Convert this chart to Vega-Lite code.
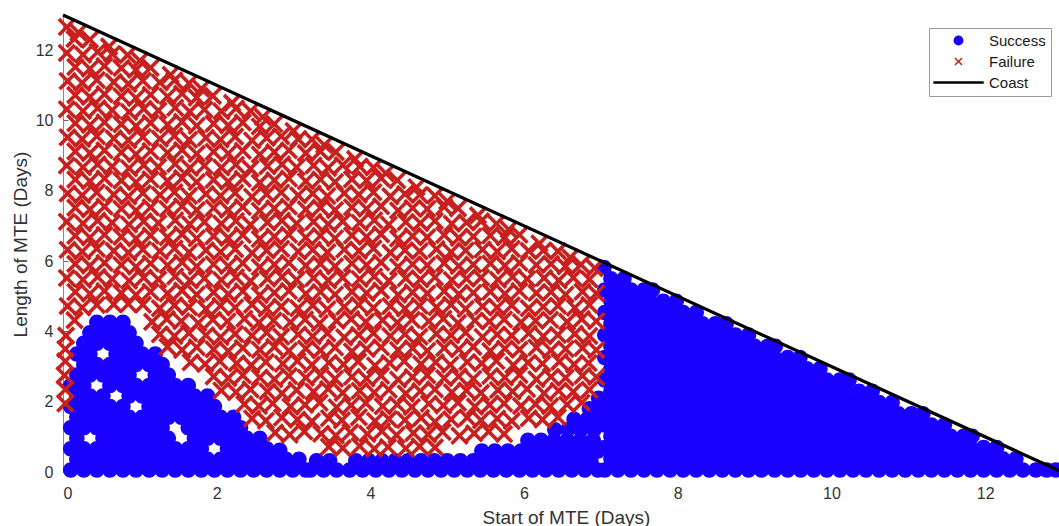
{"$schema":"https://vega.github.io/schema/vega-lite/v6.json","width":999,"height":457,"autosize":"none","padding":{"left":63,"top":15,"right":0,"bottom":54},"background":"white",
"config":{"view":{"stroke":null},"font":"Liberation Sans","axis":{"grid":false,"domainColor":"#888888","tickColor":"#666666","tickSize":-5,"labelColor":"#333333","titleColor":"#333333","labelFontSize":16,"titleFontSize":19,"titleFontWeight":"normal","labelFont":"Liberation Sans","titleFont":"Liberation Sans"},
"legend":{"orient":"none","legendX":866,"legendY":13,"fillColor":"white","strokeColor":"#9a9a9a","padding":5,"cornerRadius":0,"labelFont":"Liberation Sans","labelFontSize":15,"labelColor":"#1a1a1a","labelOffset":23,"symbolOffset":17,"rowPadding":5,"symbolSize":196,"symbolStrokeWidth":0}},
"datasets":{
"s":[
{"x":7.05,"y":0.06},{"x":7.22,"y":0.06},{"x":7.39,"y":0.06},{"x":7.56,"y":0.06},{"x":7.73,"y":0.06},{"x":7.9,"y":0.06},{"x":8.07,"y":0.06},{"x":8.24,"y":0.06},{"x":8.41,"y":0.06},{"x":8.58,"y":0.06},{"x":8.75,"y":0.06},{"x":8.92,"y":0.06},{"x":9.09,"y":0.06},{"x":9.26,"y":0.06},{"x":9.43,"y":0.06},{"x":9.6,"y":0.06},{"x":9.77,"y":0.06},{"x":9.94,"y":0.06},{"x":10.11,"y":0.06},{"x":10.28,"y":0.06},{"x":10.45,"y":0.06},{"x":10.62,"y":0.06},{"x":10.79,"y":0.06},{"x":10.96,"y":0.06},{"x":11.13,"y":0.06},{"x":11.3,"y":0.06},{"x":11.47,"y":0.06},{"x":11.64,"y":0.06},{"x":11.81,"y":0.06},{"x":11.98,"y":0.06},{"x":12.15,"y":0.06},{"x":12.32,"y":0.06},{"x":12.49,"y":0.06},{"x":12.66,"y":0.06},{"x":12.8,"y":0.06},{"x":12.92,"y":0.06},
{"x":7.13,"y":0.38},{"x":7.3,"y":0.38},{"x":7.47,"y":0.38},{"x":7.64,"y":0.38},{"x":7.81,"y":0.38},{"x":7.98,"y":0.38},{"x":8.15,"y":0.38},{"x":8.32,"y":0.38},{"x":8.49,"y":0.38},{"x":8.66,"y":0.38},{"x":8.83,"y":0.38},{"x":9,"y":0.38},{"x":9.17,"y":0.38},{"x":9.34,"y":0.38},{"x":9.51,"y":0.38},{"x":9.68,"y":0.38},{"x":9.85,"y":0.38},{"x":10.02,"y":0.38},{"x":10.19,"y":0.38},{"x":10.36,"y":0.38},{"x":10.53,"y":0.38},{"x":10.7,"y":0.38},{"x":10.87,"y":0.38},{"x":11.04,"y":0.38},{"x":11.21,"y":0.38},{"x":11.38,"y":0.38},{"x":11.55,"y":0.38},{"x":11.72,"y":0.38},{"x":11.89,"y":0.38},{"x":12.06,"y":0.38},{"x":12.23,"y":0.38},{"x":12.4,"y":0.38},
{"x":7.05,"y":0.7},{"x":7.22,"y":0.7},{"x":7.39,"y":0.7},{"x":7.56,"y":0.7},{"x":7.73,"y":0.7},{"x":7.9,"y":0.7},{"x":8.07,"y":0.7},{"x":8.24,"y":0.7},{"x":8.41,"y":0.7},{"x":8.58,"y":0.7},{"x":8.75,"y":0.7},{"x":8.92,"y":0.7},{"x":9.09,"y":0.7},{"x":9.26,"y":0.7},{"x":9.43,"y":0.7},{"x":9.6,"y":0.7},{"x":9.77,"y":0.7},{"x":9.94,"y":0.7},{"x":10.11,"y":0.7},{"x":10.28,"y":0.7},{"x":10.45,"y":0.7},{"x":10.62,"y":0.7},{"x":10.79,"y":0.7},{"x":10.96,"y":0.7},{"x":11.13,"y":0.7},{"x":11.3,"y":0.7},{"x":11.47,"y":0.7},{"x":11.64,"y":0.7},{"x":11.81,"y":0.7},{"x":11.98,"y":0.7},{"x":12.15,"y":0.7},
{"x":7.13,"y":1.02},{"x":7.3,"y":1.02},{"x":7.47,"y":1.02},{"x":7.64,"y":1.02},{"x":7.81,"y":1.02},{"x":7.98,"y":1.02},{"x":8.15,"y":1.02},{"x":8.32,"y":1.02},{"x":8.49,"y":1.02},{"x":8.66,"y":1.02},{"x":8.83,"y":1.02},{"x":9,"y":1.02},{"x":9.17,"y":1.02},{"x":9.34,"y":1.02},{"x":9.51,"y":1.02},{"x":9.68,"y":1.02},{"x":9.85,"y":1.02},{"x":10.02,"y":1.02},{"x":10.19,"y":1.02},{"x":10.36,"y":1.02},{"x":10.53,"y":1.02},{"x":10.7,"y":1.02},{"x":10.87,"y":1.02},{"x":11.04,"y":1.02},{"x":11.21,"y":1.02},{"x":11.38,"y":1.02},{"x":11.55,"y":1.02},{"x":11.72,"y":1.02},{"x":11.83,"y":1.02},
{"x":7.05,"y":1.34},{"x":7.22,"y":1.34},{"x":7.39,"y":1.34},{"x":7.56,"y":1.34},{"x":7.73,"y":1.34},{"x":7.9,"y":1.34},{"x":8.07,"y":1.34},{"x":8.24,"y":1.34},{"x":8.41,"y":1.34},{"x":8.58,"y":1.34},{"x":8.75,"y":1.34},{"x":8.92,"y":1.34},{"x":9.09,"y":1.34},{"x":9.26,"y":1.34},{"x":9.43,"y":1.34},{"x":9.6,"y":1.34},{"x":9.77,"y":1.34},{"x":9.94,"y":1.34},{"x":10.11,"y":1.34},{"x":10.28,"y":1.34},{"x":10.45,"y":1.34},{"x":10.62,"y":1.34},{"x":10.79,"y":1.34},{"x":10.96,"y":1.34},{"x":11.13,"y":1.34},{"x":11.3,"y":1.34},{"x":11.47,"y":1.34},
{"x":7.13,"y":1.66},{"x":7.3,"y":1.66},{"x":7.47,"y":1.66},{"x":7.64,"y":1.66},{"x":7.81,"y":1.66},{"x":7.98,"y":1.66},{"x":8.15,"y":1.66},{"x":8.32,"y":1.66},{"x":8.49,"y":1.66},{"x":8.66,"y":1.66},{"x":8.83,"y":1.66},{"x":9,"y":1.66},{"x":9.17,"y":1.66},{"x":9.34,"y":1.66},{"x":9.51,"y":1.66},{"x":9.68,"y":1.66},{"x":9.85,"y":1.66},{"x":10.02,"y":1.66},{"x":10.19,"y":1.66},{"x":10.36,"y":1.66},{"x":10.53,"y":1.66},{"x":10.7,"y":1.66},{"x":10.87,"y":1.66},{"x":11.04,"y":1.66},{"x":11.19,"y":1.66},
{"x":7.05,"y":1.98},{"x":7.22,"y":1.98},{"x":7.39,"y":1.98},{"x":7.56,"y":1.98},{"x":7.73,"y":1.98},{"x":7.9,"y":1.98},{"x":8.07,"y":1.98},{"x":8.24,"y":1.98},{"x":8.41,"y":1.98},{"x":8.58,"y":1.98},{"x":8.75,"y":1.98},{"x":8.92,"y":1.98},{"x":9.09,"y":1.98},{"x":9.26,"y":1.98},{"x":9.43,"y":1.98},{"x":9.6,"y":1.98},{"x":9.77,"y":1.98},{"x":9.94,"y":1.98},{"x":10.11,"y":1.98},{"x":10.28,"y":1.98},{"x":10.45,"y":1.98},{"x":10.62,"y":1.98},{"x":10.79,"y":1.98},
{"x":7.13,"y":2.3},{"x":7.3,"y":2.3},{"x":7.47,"y":2.3},{"x":7.64,"y":2.3},{"x":7.81,"y":2.3},{"x":7.98,"y":2.3},{"x":8.15,"y":2.3},{"x":8.32,"y":2.3},{"x":8.49,"y":2.3},{"x":8.66,"y":2.3},{"x":8.83,"y":2.3},{"x":9,"y":2.3},{"x":9.17,"y":2.3},{"x":9.34,"y":2.3},{"x":9.51,"y":2.3},{"x":9.68,"y":2.3},{"x":9.85,"y":2.3},{"x":10.02,"y":2.3},{"x":10.19,"y":2.3},{"x":10.36,"y":2.3},{"x":10.53,"y":2.3},
{"x":7.05,"y":2.62},{"x":7.22,"y":2.62},{"x":7.39,"y":2.62},{"x":7.56,"y":2.62},{"x":7.73,"y":2.62},{"x":7.9,"y":2.62},{"x":8.07,"y":2.62},{"x":8.24,"y":2.62},{"x":8.41,"y":2.62},{"x":8.58,"y":2.62},{"x":8.75,"y":2.62},{"x":8.92,"y":2.62},{"x":9.09,"y":2.62},{"x":9.26,"y":2.62},{"x":9.43,"y":2.62},{"x":9.6,"y":2.62},{"x":9.77,"y":2.62},{"x":9.94,"y":2.62},{"x":10.11,"y":2.62},{"x":10.23,"y":2.62},
{"x":7.13,"y":2.94},{"x":7.3,"y":2.94},{"x":7.47,"y":2.94},{"x":7.64,"y":2.94},{"x":7.81,"y":2.94},{"x":7.98,"y":2.94},{"x":8.15,"y":2.94},{"x":8.32,"y":2.94},{"x":8.49,"y":2.94},{"x":8.66,"y":2.94},{"x":8.83,"y":2.94},{"x":9,"y":2.94},{"x":9.17,"y":2.94},{"x":9.34,"y":2.94},{"x":9.51,"y":2.94},{"x":9.68,"y":2.94},{"x":9.85,"y":2.94},
{"x":7.05,"y":3.26},{"x":7.22,"y":3.26},{"x":7.39,"y":3.26},{"x":7.56,"y":3.26},{"x":7.73,"y":3.26},{"x":7.9,"y":3.26},{"x":8.07,"y":3.26},{"x":8.24,"y":3.26},{"x":8.41,"y":3.26},{"x":8.58,"y":3.26},{"x":8.75,"y":3.26},{"x":8.92,"y":3.26},{"x":9.09,"y":3.26},{"x":9.26,"y":3.26},{"x":9.43,"y":3.26},{"x":9.59,"y":3.26},
{"x":7.13,"y":3.58},{"x":7.3,"y":3.58},{"x":7.47,"y":3.58},{"x":7.64,"y":3.58},{"x":7.81,"y":3.58},{"x":7.98,"y":3.58},{"x":8.15,"y":3.58},{"x":8.32,"y":3.58},{"x":8.49,"y":3.58},{"x":8.66,"y":3.58},{"x":8.83,"y":3.58},{"x":9,"y":3.58},{"x":9.17,"y":3.58},{"x":9.27,"y":3.58},
{"x":7.05,"y":3.9},{"x":7.22,"y":3.9},{"x":7.39,"y":3.9},{"x":7.56,"y":3.9},{"x":7.73,"y":3.9},{"x":7.9,"y":3.9},{"x":8.07,"y":3.9},{"x":8.24,"y":3.9},{"x":8.41,"y":3.9},{"x":8.58,"y":3.9},{"x":8.75,"y":3.9},{"x":8.92,"y":3.9},
{"x":7.13,"y":4.22},{"x":7.3,"y":4.22},{"x":7.47,"y":4.22},{"x":7.64,"y":4.22},{"x":7.81,"y":4.22},{"x":7.98,"y":4.22},{"x":8.15,"y":4.22},{"x":8.32,"y":4.22},{"x":8.49,"y":4.22},{"x":8.63,"y":4.22},
{"x":7.05,"y":4.54},{"x":7.22,"y":4.54},{"x":7.39,"y":4.54},{"x":7.56,"y":4.54},{"x":7.73,"y":4.54},{"x":7.9,"y":4.54},{"x":8.07,"y":4.54},{"x":8.24,"y":4.54},
{"x":7.13,"y":4.86},{"x":7.3,"y":4.86},{"x":7.47,"y":4.86},{"x":7.64,"y":4.86},{"x":7.81,"y":4.86},{"x":7.98,"y":4.86},
{"x":7.05,"y":5.18},{"x":7.22,"y":5.18},{"x":7.39,"y":5.18},{"x":7.56,"y":5.18},{"x":7.67,"y":5.18},
{"x":7.13,"y":5.5},{"x":7.3,"y":5.5},{"x":7.04,"y":5.82},
{"x":3.22,"y":0.06},{"x":3.39,"y":0.06},{"x":3.56,"y":0.06},{"x":3.73,"y":0.06},{"x":3.9,"y":0.06},{"x":4.07,"y":0.06},{"x":4.24,"y":0.06},{"x":4.41,"y":0.06},{"x":4.58,"y":0.06},{"x":4.75,"y":0.06},{"x":4.92,"y":0.06},{"x":5.09,"y":0.06},{"x":5.26,"y":0.06},{"x":5.43,"y":0.06},{"x":5.6,"y":0.06},{"x":5.77,"y":0.06},{"x":5.94,"y":0.06},{"x":6.11,"y":0.06},{"x":6.28,"y":0.06},{"x":6.45,"y":0.06},{"x":6.62,"y":0.06},{"x":6.79,"y":0.06},{"x":6.96,"y":0.06},
{"x":3.3,"y":0.32},{"x":3.47,"y":0.32},{"x":3.81,"y":0.32},{"x":3.98,"y":0.32},{"x":4.15,"y":0.32},{"x":4.32,"y":0.32},{"x":4.49,"y":0.32},{"x":4.66,"y":0.32},{"x":4.83,"y":0.32},{"x":5,"y":0.32},{"x":5.17,"y":0.32},{"x":5.34,"y":0.32},{"x":5.51,"y":0.32},{"x":5.68,"y":0.32},{"x":5.85,"y":0.32},{"x":6.02,"y":0.32},{"x":6.19,"y":0.32},{"x":6.36,"y":0.32},{"x":6.53,"y":0.32},{"x":6.7,"y":0.32},{"x":6.87,"y":0.32},
{"x":5.45,"y":0.6},{"x":5.62,"y":0.6},{"x":5.79,"y":0.6},{"x":5.96,"y":0.6},{"x":6.13,"y":0.6},{"x":6.3,"y":0.6},{"x":6.47,"y":0.6},{"x":6.64,"y":0.6},{"x":6.81,"y":0.6},{"x":6.96,"y":0.6},
{"x":6.05,"y":0.9},{"x":6.22,"y":0.9},{"x":6.39,"y":0.9},{"x":6.56,"y":0.9},{"x":6.73,"y":0.9},{"x":6.9,"y":0.9},
{"x":6.4,"y":1.2},{"x":6.57,"y":1.2},{"x":6.74,"y":1.2},{"x":6.91,"y":1.2},{"x":6.65,"y":1.5},{"x":6.82,"y":1.5},{"x":6.96,"y":1.5},{"x":6.85,"y":1.8},{"x":6.97,"y":1.8},{"x":6.97,"y":2.1},
{"x":0.1,"y":0.06},{"x":0.27,"y":0.06},{"x":0.44,"y":0.06},{"x":0.61,"y":0.06},{"x":0.78,"y":0.06},{"x":0.95,"y":0.06},{"x":1.12,"y":0.06},{"x":1.29,"y":0.06},{"x":1.46,"y":0.06},{"x":1.63,"y":0.06},{"x":1.8,"y":0.06},{"x":1.97,"y":0.06},{"x":2.14,"y":0.06},{"x":2.31,"y":0.06},{"x":2.48,"y":0.06},{"x":2.65,"y":0.06},{"x":2.82,"y":0.06},{"x":2.99,"y":0.06},{"x":3.16,"y":0.06},
{"x":0.18,"y":0.36},{"x":0.35,"y":0.36},{"x":0.52,"y":0.36},{"x":0.69,"y":0.36},{"x":0.86,"y":0.36},{"x":1.03,"y":0.36},{"x":1.2,"y":0.36},{"x":1.37,"y":0.36},{"x":1.54,"y":0.36},{"x":1.71,"y":0.36},{"x":1.88,"y":0.36},{"x":2.05,"y":0.36},{"x":2.22,"y":0.36},{"x":2.39,"y":0.36},{"x":2.56,"y":0.36},{"x":2.73,"y":0.36},{"x":2.9,"y":0.36},{"x":3.07,"y":0.36},
{"x":0.1,"y":0.66},{"x":0.27,"y":0.66},{"x":0.44,"y":0.66},{"x":0.61,"y":0.66},{"x":0.78,"y":0.66},{"x":0.95,"y":0.66},{"x":1.12,"y":0.66},{"x":1.29,"y":0.66},{"x":1.46,"y":0.66},{"x":1.63,"y":0.66},{"x":1.8,"y":0.66},{"x":2.14,"y":0.66},{"x":2.31,"y":0.66},{"x":2.48,"y":0.66},{"x":2.65,"y":0.66},{"x":2.82,"y":0.62},
{"x":0.18,"y":0.96},{"x":0.52,"y":0.96},{"x":0.69,"y":0.96},{"x":0.86,"y":0.96},{"x":1.03,"y":0.96},{"x":1.2,"y":0.96},{"x":1.37,"y":0.96},{"x":1.71,"y":0.96},{"x":1.88,"y":0.96},{"x":2.05,"y":0.96},{"x":2.22,"y":0.96},{"x":2.39,"y":0.96},{"x":2.56,"y":0.96},
{"x":0.1,"y":1.26},{"x":0.27,"y":1.26},{"x":0.44,"y":1.26},{"x":0.61,"y":1.26},{"x":0.78,"y":1.26},{"x":0.95,"y":1.26},{"x":1.12,"y":1.26},{"x":1.29,"y":1.26},{"x":1.63,"y":1.26},{"x":1.8,"y":1.26},{"x":1.97,"y":1.26},{"x":2.14,"y":1.26},{"x":2.31,"y":1.26},
{"x":0.18,"y":1.56},{"x":0.35,"y":1.56},{"x":0.52,"y":1.56},{"x":0.69,"y":1.56},{"x":0.86,"y":1.56},{"x":1.03,"y":1.56},{"x":1.2,"y":1.56},{"x":1.37,"y":1.56},{"x":1.54,"y":1.56},{"x":1.71,"y":1.56},{"x":1.88,"y":1.56},{"x":2.05,"y":1.56},{"x":2.22,"y":1.56},
{"x":0.1,"y":1.86},{"x":0.27,"y":1.86},{"x":0.44,"y":1.86},{"x":0.61,"y":1.86},{"x":0.78,"y":1.86},{"x":1.12,"y":1.86},{"x":1.29,"y":1.86},{"x":1.46,"y":1.86},{"x":1.63,"y":1.86},{"x":1.8,"y":1.86},{"x":1.97,"y":1.86},
{"x":0.18,"y":2.16},{"x":0.35,"y":2.16},{"x":0.52,"y":2.16},{"x":0.86,"y":2.16},{"x":1.03,"y":2.16},{"x":1.2,"y":2.16},{"x":1.37,"y":2.16},{"x":1.54,"y":2.16},{"x":1.71,"y":2.16},{"x":1.88,"y":2.16},
{"x":0.1,"y":2.46},{"x":0.27,"y":2.46},{"x":0.61,"y":2.46},{"x":0.78,"y":2.46},{"x":0.95,"y":2.46},{"x":1.12,"y":2.46},{"x":1.29,"y":2.46},{"x":1.46,"y":2.46},{"x":1.63,"y":2.46},
{"x":0.18,"y":2.76},{"x":0.35,"y":2.76},{"x":0.52,"y":2.76},{"x":0.69,"y":2.76},{"x":0.86,"y":2.76},{"x":1.2,"y":2.76},{"x":1.37,"y":2.76},
{"x":0.27,"y":3.06},{"x":0.44,"y":3.06},{"x":0.61,"y":3.06},{"x":0.78,"y":3.06},{"x":0.95,"y":3.06},{"x":1.12,"y":3.06},{"x":1.29,"y":3.06},
{"x":0.18,"y":3.36},{"x":0.35,"y":3.36},{"x":0.69,"y":3.36},{"x":0.86,"y":3.36},{"x":1.03,"y":3.36},{"x":1.2,"y":3.36},
{"x":0.27,"y":3.66},{"x":0.44,"y":3.66},{"x":0.61,"y":3.66},{"x":0.78,"y":3.66},{"x":0.95,"y":3.66},
{"x":0.35,"y":3.96},{"x":0.52,"y":3.96},{"x":0.69,"y":3.96},{"x":0.86,"y":3.96},
{"x":0.44,"y":4.26},{"x":0.61,"y":4.26},{"x":0.78,"y":4.26}
],
"f":[
{"x":3.46,"y":0.72},{"x":3.64,"y":0.68},{"x":3.86,"y":0.74},{"x":4.05,"y":0.66},{"x":4.23,"y":0.71},{"x":4.46,"y":0.67},{"x":4.64,"y":0.73},{"x":4.84,"y":0.7},
{"x":2.76,"y":1.12},{"x":2.95,"y":1.06},{"x":3.14,"y":1.15},{"x":3.36,"y":1.09},{"x":3.55,"y":1.04},{"x":3.74,"y":1.13},{"x":3.96,"y":1.08},{"x":4.15,"y":1.16},{"x":4.34,"y":1.05},{"x":4.56,"y":1.11},{"x":4.75,"y":1.07},{"x":4.94,"y":1.14},{"x":5.16,"y":1.03},{"x":5.35,"y":1.1},{"x":5.54,"y":1.15},{"x":5.74,"y":1.08},
{"x":2.46,"y":1.52},{"x":2.64,"y":1.46},{"x":2.85,"y":1.55},{"x":3.05,"y":1.49},{"x":3.24,"y":1.44},{"x":3.46,"y":1.53},{"x":3.63,"y":1.47},{"x":3.85,"y":1.56},{"x":4.06,"y":1.45},{"x":4.24,"y":1.51},{"x":4.45,"y":1.48},{"x":4.66,"y":1.54},{"x":4.84,"y":1.43},{"x":5.05,"y":1.5},{"x":5.26,"y":1.55},{"x":5.44,"y":1.47},{"x":5.65,"y":1.52},{"x":5.84,"y":1.45},{"x":6.06,"y":1.53},{"x":6.24,"y":1.49},{"x":6.44,"y":1.56},
{"x":2.36,"y":1.93},{"x":2.55,"y":1.88},{"x":2.73,"y":1.95},{"x":2.96,"y":1.86},{"x":3.15,"y":1.91},{"x":3.34,"y":1.97},{"x":3.56,"y":1.84},{"x":3.75,"y":1.9},{"x":3.94,"y":1.96},{"x":4.16,"y":1.87},{"x":4.35,"y":1.92},{"x":4.54,"y":1.85},{"x":4.76,"y":1.94},{"x":4.95,"y":1.89},{"x":5.14,"y":1.97},{"x":5.36,"y":1.86},{"x":5.55,"y":1.91},{"x":5.74,"y":1.95},{"x":5.96,"y":1.88},{"x":6.15,"y":1.93},{"x":6.34,"y":1.87},{"x":6.56,"y":1.92},{"x":6.75,"y":1.97},
{"x":2.06,"y":2.32},{"x":2.25,"y":2.27},{"x":2.44,"y":2.35},{"x":2.66,"y":2.29},{"x":2.85,"y":2.24},{"x":3.04,"y":2.33},{"x":3.26,"y":2.28},{"x":3.45,"y":2.36},{"x":3.64,"y":2.25},{"x":3.86,"y":2.31},{"x":4.05,"y":2.26},{"x":4.24,"y":2.34},{"x":4.46,"y":2.23},{"x":4.65,"y":2.3},{"x":4.84,"y":2.35},{"x":5.06,"y":2.27},{"x":5.25,"y":2.32},{"x":5.44,"y":2.25},{"x":5.66,"y":2.33},{"x":5.85,"y":2.29},{"x":6.04,"y":2.36},{"x":6.26,"y":2.24},{"x":6.45,"y":2.31},{"x":6.64,"y":2.28},{"x":6.85,"y":2.34},
{"x":1.96,"y":2.72},{"x":2.15,"y":2.67},{"x":2.34,"y":2.75},{"x":2.56,"y":2.69},{"x":2.75,"y":2.64},{"x":2.94,"y":2.73},{"x":3.16,"y":2.68},{"x":3.35,"y":2.76},{"x":3.54,"y":2.65},{"x":3.76,"y":2.71},{"x":3.95,"y":2.66},{"x":4.14,"y":2.74},{"x":4.36,"y":2.63},{"x":4.55,"y":2.7},{"x":4.74,"y":2.75},{"x":4.96,"y":2.67},{"x":5.15,"y":2.72},{"x":5.34,"y":2.65},{"x":5.56,"y":2.73},{"x":5.75,"y":2.69},{"x":5.94,"y":2.76},{"x":6.16,"y":2.64},{"x":6.35,"y":2.71},{"x":6.54,"y":2.68},{"x":6.76,"y":2.74},{"x":6.94,"y":2.7},
{"x":1.66,"y":3.12},{"x":1.85,"y":3.07},{"x":2.04,"y":3.15},{"x":2.26,"y":3.09},{"x":2.45,"y":3.04},{"x":2.64,"y":3.13},{"x":2.86,"y":3.08},{"x":3.05,"y":3.16},{"x":3.24,"y":3.05},{"x":3.46,"y":3.11},{"x":3.65,"y":3.06},{"x":3.84,"y":3.14},{"x":4.06,"y":3.03},{"x":4.25,"y":3.1},{"x":4.44,"y":3.15},{"x":4.66,"y":3.07},{"x":4.85,"y":3.12},{"x":5.04,"y":3.05},{"x":5.26,"y":3.13},{"x":5.45,"y":3.09},{"x":5.64,"y":3.16},{"x":5.86,"y":3.04},{"x":6.05,"y":3.11},{"x":6.24,"y":3.08},{"x":6.46,"y":3.14},{"x":6.65,"y":3.06},{"x":6.84,"y":3.1},
{"x":0.03,"y":1.95},{"x":0.03,"y":2.35},{"x":0.02,"y":2.75},{"x":0.03,"y":3.15},{"x":0.03,"y":3.5},
{"x":1.36,"y":3.56},{"x":1.55,"y":3.47},{"x":1.74,"y":3.55},{"x":1.96,"y":3.49},{"x":2.15,"y":3.44},{"x":2.34,"y":3.53},{"x":2.56,"y":3.48},{"x":2.75,"y":3.56},{"x":2.94,"y":3.45},{"x":3.16,"y":3.51},{"x":3.35,"y":3.46},{"x":3.54,"y":3.54},{"x":3.76,"y":3.43},{"x":3.95,"y":3.5},{"x":4.14,"y":3.55},{"x":4.36,"y":3.47},{"x":4.55,"y":3.52},{"x":4.74,"y":3.45},{"x":4.96,"y":3.53},{"x":5.15,"y":3.49},{"x":5.34,"y":3.56},{"x":5.56,"y":3.44},{"x":5.75,"y":3.51},{"x":5.94,"y":3.48},{"x":6.16,"y":3.54},{"x":6.35,"y":3.46},{"x":6.54,"y":3.5},{"x":6.76,"y":3.53},{"x":6.94,"y":3.47},
{"x":0.04,"y":3.88},{"x":1.26,"y":3.92},{"x":1.45,"y":3.87},{"x":1.64,"y":3.95},{"x":1.86,"y":3.89},{"x":2.05,"y":3.84},{"x":2.24,"y":3.93},{"x":2.46,"y":3.88},{"x":2.65,"y":3.96},{"x":2.84,"y":3.85},{"x":3.06,"y":3.91},{"x":3.25,"y":3.86},{"x":3.44,"y":3.94},{"x":3.66,"y":3.83},{"x":3.85,"y":3.9},{"x":4.04,"y":3.95},{"x":4.26,"y":3.87},{"x":4.45,"y":3.92},{"x":4.64,"y":3.85},{"x":4.86,"y":3.93},{"x":5.05,"y":3.89},{"x":5.24,"y":3.96},{"x":5.46,"y":3.84},{"x":5.65,"y":3.91},{"x":5.84,"y":3.88},{"x":6.06,"y":3.94},{"x":6.25,"y":3.86},{"x":6.44,"y":3.9},{"x":6.66,"y":3.93},{"x":6.85,"y":3.87},
{"x":0.15,"y":4.32},{"x":1.16,"y":4.27},{"x":1.35,"y":4.35},{"x":1.54,"y":4.29},{"x":1.76,"y":4.24},{"x":1.95,"y":4.33},{"x":2.14,"y":4.28},{"x":2.36,"y":4.36},{"x":2.55,"y":4.25},{"x":2.74,"y":4.31},{"x":2.96,"y":4.26},{"x":3.15,"y":4.34},{"x":3.34,"y":4.23},{"x":3.56,"y":4.3},{"x":3.75,"y":4.35},{"x":3.94,"y":4.27},{"x":4.16,"y":4.32},{"x":4.35,"y":4.25},{"x":4.54,"y":4.33},{"x":4.76,"y":4.29},{"x":4.95,"y":4.36},{"x":5.14,"y":4.24},{"x":5.36,"y":4.31},{"x":5.55,"y":4.28},{"x":5.74,"y":4.34},{"x":5.96,"y":4.26},{"x":6.15,"y":4.3},{"x":6.34,"y":4.33},{"x":6.56,"y":4.27},{"x":6.75,"y":4.35},{"x":6.94,"y":4.29},
{"x":0.06,"y":4.72},{"x":0.25,"y":4.68},{"x":0.44,"y":4.75},{"x":0.66,"y":4.77},{"x":0.85,"y":4.78},{"x":1.04,"y":4.76},{"x":1.26,"y":4.66},{"x":1.45,"y":4.74},{"x":1.64,"y":4.69},{"x":1.86,"y":4.64},{"x":2.05,"y":4.73},{"x":2.24,"y":4.68},{"x":2.46,"y":4.76},{"x":2.65,"y":4.65},{"x":2.84,"y":4.71},{"x":3.06,"y":4.66},{"x":3.25,"y":4.74},{"x":3.44,"y":4.63},{"x":3.66,"y":4.7},{"x":3.85,"y":4.75},{"x":4.04,"y":4.67},{"x":4.26,"y":4.72},{"x":4.45,"y":4.65},{"x":4.64,"y":4.73},{"x":4.86,"y":4.69},{"x":5.05,"y":4.76},{"x":5.24,"y":4.64},{"x":5.46,"y":4.71},{"x":5.65,"y":4.68},{"x":5.84,"y":4.74},{"x":6.06,"y":4.66},{"x":6.25,"y":4.7},{"x":6.44,"y":4.73},{"x":6.66,"y":4.67},{"x":6.85,"y":4.75},
{"x":0.16,"y":5.12},{"x":0.35,"y":5.07},{"x":0.54,"y":5.15},{"x":0.76,"y":5.09},{"x":0.95,"y":5.04},{"x":1.14,"y":5.13},{"x":1.36,"y":5.08},{"x":1.55,"y":5.16},{"x":1.74,"y":5.05},{"x":1.96,"y":5.11},{"x":2.15,"y":5.06},{"x":2.34,"y":5.14},{"x":2.56,"y":5.03},{"x":2.75,"y":5.1},{"x":2.94,"y":5.15},{"x":3.16,"y":5.07},{"x":3.35,"y":5.12},{"x":3.54,"y":5.05},{"x":3.76,"y":5.13},{"x":3.95,"y":5.09},{"x":4.14,"y":5.16},{"x":4.36,"y":5.04},{"x":4.55,"y":5.11},{"x":4.74,"y":5.08},{"x":4.96,"y":5.14},{"x":5.15,"y":5.06},{"x":5.34,"y":5.1},{"x":5.56,"y":5.13},{"x":5.75,"y":5.07},{"x":5.94,"y":5.15},{"x":6.16,"y":5.09},{"x":6.35,"y":5.12},{"x":6.54,"y":5.05},{"x":6.76,"y":5.13},{"x":6.94,"y":5.08},
{"x":0.05,"y":5.52},{"x":0.26,"y":5.47},{"x":0.45,"y":5.55},{"x":0.64,"y":5.49},{"x":0.86,"y":5.44},{"x":1.05,"y":5.53},{"x":1.24,"y":5.48},{"x":1.46,"y":5.56},{"x":1.65,"y":5.45},{"x":1.84,"y":5.51},{"x":2.06,"y":5.46},{"x":2.25,"y":5.54},{"x":2.44,"y":5.43},{"x":2.66,"y":5.5},{"x":2.85,"y":5.55},{"x":3.04,"y":5.47},{"x":3.26,"y":5.52},{"x":3.45,"y":5.45},{"x":3.64,"y":5.53},{"x":3.86,"y":5.49},{"x":4.05,"y":5.56},{"x":4.24,"y":5.44},{"x":4.46,"y":5.51},{"x":4.65,"y":5.48},{"x":4.84,"y":5.54},{"x":5.06,"y":5.46},{"x":5.25,"y":5.5},{"x":5.44,"y":5.53},{"x":5.66,"y":5.47},{"x":5.85,"y":5.55},{"x":6.04,"y":5.49},{"x":6.26,"y":5.52},{"x":6.45,"y":5.45},{"x":6.64,"y":5.53},{"x":6.85,"y":5.48},
{"x":0.16,"y":5.92},{"x":0.35,"y":5.87},{"x":0.54,"y":5.95},{"x":0.76,"y":5.89},{"x":0.95,"y":5.84},{"x":1.14,"y":5.93},{"x":1.36,"y":5.88},{"x":1.55,"y":5.96},{"x":1.74,"y":5.85},{"x":1.96,"y":5.91},{"x":2.15,"y":5.86},{"x":2.34,"y":5.94},{"x":2.56,"y":5.83},{"x":2.75,"y":5.9},{"x":2.94,"y":5.95},{"x":3.16,"y":5.87},{"x":3.35,"y":5.92},{"x":3.54,"y":5.85},{"x":3.76,"y":5.93},{"x":3.95,"y":5.89},{"x":4.14,"y":5.96},{"x":4.36,"y":5.84},{"x":4.55,"y":5.91},{"x":4.74,"y":5.88},{"x":4.96,"y":5.94},{"x":5.15,"y":5.86},{"x":5.34,"y":5.9},{"x":5.56,"y":5.93},{"x":5.75,"y":5.87},{"x":5.94,"y":5.95},{"x":6.16,"y":5.89},{"x":6.35,"y":5.92},{"x":6.54,"y":5.85},{"x":6.74,"y":5.9},{"x":6.92,"y":5.8},
{"x":0.06,"y":6.32},{"x":0.25,"y":6.27},{"x":0.44,"y":6.35},{"x":0.66,"y":6.29},{"x":0.85,"y":6.24},{"x":1.04,"y":6.33},{"x":1.26,"y":6.28},{"x":1.45,"y":6.36},{"x":1.64,"y":6.25},{"x":1.86,"y":6.31},{"x":2.05,"y":6.26},{"x":2.24,"y":6.34},{"x":2.46,"y":6.23},{"x":2.65,"y":6.3},{"x":2.84,"y":6.35},{"x":3.06,"y":6.27},{"x":3.25,"y":6.32},{"x":3.44,"y":6.25},{"x":3.66,"y":6.33},{"x":3.85,"y":6.29},{"x":4.04,"y":6.36},{"x":4.26,"y":6.24},{"x":4.45,"y":6.31},{"x":4.64,"y":6.28},{"x":4.86,"y":6.34},{"x":5.05,"y":6.26},{"x":5.24,"y":6.3},{"x":5.46,"y":6.33},{"x":5.65,"y":6.27},{"x":5.84,"y":6.35},{"x":6.06,"y":6.29},{"x":6.25,"y":6.3},{"x":6.44,"y":6.28},
{"x":0.16,"y":6.72},{"x":0.35,"y":6.67},{"x":0.54,"y":6.75},{"x":0.76,"y":6.69},{"x":0.95,"y":6.64},{"x":1.14,"y":6.73},{"x":1.36,"y":6.68},{"x":1.55,"y":6.76},{"x":1.74,"y":6.65},{"x":1.96,"y":6.71},{"x":2.15,"y":6.66},{"x":2.34,"y":6.74},{"x":2.56,"y":6.63},{"x":2.75,"y":6.7},{"x":2.94,"y":6.75},{"x":3.16,"y":6.67},{"x":3.35,"y":6.72},{"x":3.54,"y":6.65},{"x":3.76,"y":6.73},{"x":3.95,"y":6.69},{"x":4.14,"y":6.76},{"x":4.36,"y":6.64},{"x":4.55,"y":6.71},{"x":4.74,"y":6.68},{"x":4.96,"y":6.74},{"x":5.15,"y":6.66},{"x":5.34,"y":6.7},{"x":5.56,"y":6.73},{"x":5.75,"y":6.67},{"x":5.94,"y":6.75},
{"x":0.05,"y":7.12},{"x":0.26,"y":7.07},{"x":0.45,"y":7.15},{"x":0.64,"y":7.09},{"x":0.86,"y":7.04},{"x":1.05,"y":7.13},{"x":1.24,"y":7.08},{"x":1.46,"y":7.16},{"x":1.65,"y":7.05},{"x":1.84,"y":7.11},{"x":2.06,"y":7.06},{"x":2.25,"y":7.14},{"x":2.44,"y":7.03},{"x":2.66,"y":7.1},{"x":2.85,"y":7.15},{"x":3.04,"y":7.07},{"x":3.26,"y":7.12},{"x":3.45,"y":7.05},{"x":3.64,"y":7.13},{"x":3.86,"y":7.09},{"x":4.05,"y":7.16},{"x":4.24,"y":7.04},{"x":4.46,"y":7.11},{"x":4.65,"y":7.08},{"x":4.84,"y":7.14},{"x":5.06,"y":7.06},{"x":5.25,"y":7.1},{"x":5.44,"y":7.13},{"x":5.64,"y":7.06},
{"x":0.16,"y":7.52},{"x":0.35,"y":7.47},{"x":0.54,"y":7.55},{"x":0.76,"y":7.49},{"x":0.95,"y":7.44},{"x":1.14,"y":7.53},{"x":1.36,"y":7.48},{"x":1.55,"y":7.56},{"x":1.74,"y":7.45},{"x":1.96,"y":7.51},{"x":2.15,"y":7.46},{"x":2.34,"y":7.54},{"x":2.56,"y":7.43},{"x":2.75,"y":7.5},{"x":2.94,"y":7.55},{"x":3.16,"y":7.47},{"x":3.35,"y":7.52},{"x":3.54,"y":7.45},{"x":3.76,"y":7.53},{"x":3.95,"y":7.49},{"x":4.14,"y":7.56},{"x":4.36,"y":7.44},{"x":4.55,"y":7.51},{"x":4.74,"y":7.48},{"x":4.96,"y":7.54},{"x":5.14,"y":7.5},
{"x":0.06,"y":7.92},{"x":0.25,"y":7.87},{"x":0.44,"y":7.95},{"x":0.66,"y":7.89},{"x":0.85,"y":7.84},{"x":1.04,"y":7.93},{"x":1.26,"y":7.88},{"x":1.45,"y":7.96},{"x":1.64,"y":7.85},{"x":1.86,"y":7.91},{"x":2.05,"y":7.86},{"x":2.24,"y":7.94},{"x":2.46,"y":7.83},{"x":2.65,"y":7.9},{"x":2.84,"y":7.95},{"x":3.06,"y":7.87},{"x":3.25,"y":7.92},{"x":3.44,"y":7.85},{"x":3.66,"y":7.93},{"x":3.85,"y":7.89},{"x":4.04,"y":7.96},{"x":4.26,"y":7.84},{"x":4.45,"y":7.91},{"x":4.64,"y":7.88},{"x":4.84,"y":7.86},
{"x":0.16,"y":8.32},{"x":0.35,"y":8.27},{"x":0.54,"y":8.35},{"x":0.76,"y":8.29},{"x":0.95,"y":8.24},{"x":1.14,"y":8.33},{"x":1.36,"y":8.28},{"x":1.55,"y":8.36},{"x":1.74,"y":8.25},{"x":1.96,"y":8.31},{"x":2.15,"y":8.26},{"x":2.34,"y":8.34},{"x":2.56,"y":8.23},{"x":2.75,"y":8.3},{"x":2.94,"y":8.35},{"x":3.16,"y":8.27},{"x":3.35,"y":8.32},{"x":3.54,"y":8.25},{"x":3.76,"y":8.33},{"x":3.95,"y":8.29},{"x":4.14,"y":8.36},{"x":4.35,"y":8.3},
{"x":0.05,"y":8.72},{"x":0.26,"y":8.67},{"x":0.45,"y":8.75},{"x":0.64,"y":8.69},{"x":0.86,"y":8.64},{"x":1.05,"y":8.73},{"x":1.24,"y":8.68},{"x":1.46,"y":8.76},{"x":1.65,"y":8.65},{"x":1.84,"y":8.71},{"x":2.06,"y":8.66},{"x":2.25,"y":8.74},{"x":2.44,"y":8.63},{"x":2.66,"y":8.7},{"x":2.85,"y":8.75},{"x":3.04,"y":8.67},{"x":3.26,"y":8.72},{"x":3.45,"y":8.65},{"x":3.64,"y":8.73},{"x":3.86,"y":8.69},{"x":4.04,"y":8.66},
{"x":0.16,"y":9.12},{"x":0.35,"y":9.07},{"x":0.54,"y":9.15},{"x":0.76,"y":9.09},{"x":0.95,"y":9.04},{"x":1.14,"y":9.13},{"x":1.36,"y":9.08},{"x":1.55,"y":9.16},{"x":1.74,"y":9.05},{"x":1.96,"y":9.11},{"x":2.15,"y":9.06},{"x":2.34,"y":9.14},{"x":2.56,"y":9.03},{"x":2.75,"y":9.1},{"x":2.94,"y":9.15},{"x":3.16,"y":9.07},{"x":3.35,"y":9.12},{"x":3.55,"y":9.1},
{"x":0.06,"y":9.52},{"x":0.25,"y":9.47},{"x":0.44,"y":9.55},{"x":0.66,"y":9.49},{"x":0.85,"y":9.44},{"x":1.04,"y":9.53},{"x":1.26,"y":9.48},{"x":1.45,"y":9.56},{"x":1.64,"y":9.45},{"x":1.86,"y":9.51},{"x":2.05,"y":9.46},{"x":2.24,"y":9.54},{"x":2.46,"y":9.43},{"x":2.65,"y":9.5},{"x":2.84,"y":9.55},{"x":3.06,"y":9.47},{"x":3.24,"y":9.46},
{"x":0.16,"y":9.92},{"x":0.35,"y":9.87},{"x":0.54,"y":9.95},{"x":0.76,"y":9.89},{"x":0.95,"y":9.84},{"x":1.14,"y":9.93},{"x":1.36,"y":9.88},{"x":1.55,"y":9.96},{"x":1.74,"y":9.85},{"x":1.96,"y":9.91},{"x":2.15,"y":9.86},{"x":2.34,"y":9.94},{"x":2.56,"y":9.83},{"x":2.75,"y":9.9},
{"x":0.05,"y":10.32},{"x":0.26,"y":10.27},{"x":0.45,"y":10.35},{"x":0.64,"y":10.29},{"x":0.86,"y":10.24},{"x":1.05,"y":10.33},{"x":1.24,"y":10.28},{"x":1.46,"y":10.36},{"x":1.65,"y":10.25},{"x":1.84,"y":10.31},{"x":2.06,"y":10.26},{"x":2.25,"y":10.34},{"x":2.44,"y":10.27},
{"x":0.16,"y":10.72},{"x":0.35,"y":10.67},{"x":0.54,"y":10.75},{"x":0.76,"y":10.69},{"x":0.95,"y":10.64},{"x":1.14,"y":10.73},{"x":1.36,"y":10.68},{"x":1.55,"y":10.76},{"x":1.74,"y":10.65},{"x":1.95,"y":10.7},
{"x":0.06,"y":11.12},{"x":0.25,"y":11.07},{"x":0.44,"y":11.15},{"x":0.66,"y":11.09},{"x":0.85,"y":11.04},{"x":1.04,"y":11.13},{"x":1.26,"y":11.08},{"x":1.45,"y":11.14},{"x":1.64,"y":11.06},
{"x":0.16,"y":11.52},{"x":0.35,"y":11.47},{"x":0.54,"y":11.55},{"x":0.76,"y":11.49},{"x":0.95,"y":11.44},{"x":1.14,"y":11.5},
{"x":0.05,"y":11.92},{"x":0.26,"y":11.87},{"x":0.45,"y":11.95},{"x":0.64,"y":11.89},{"x":0.84,"y":11.86},
{"x":0.15,"y":12.32},{"x":0.35,"y":12.3},{"x":0.05,"y":12.66},
{"x":6.6,"y":6.1},{"x":6.2,"y":6.5},{"x":5.8,"y":6.9},{"x":5.4,"y":7.3},{"x":5,"y":7.7},{"x":4.6,"y":8.1},{"x":4.2,"y":8.5},{"x":3.8,"y":8.9},{"x":3.4,"y":9.3},{"x":3,"y":9.7},{"x":2.6,"y":10.1},{"x":2.2,"y":10.5},{"x":1.8,"y":10.9},{"x":1.4,"y":11.3},{"x":1,"y":11.7},{"x":0.6,"y":12.1},{"x":0.2,"y":12.5}
],
"c":[{"x":0,"y":13},{"x":13,"y":0}]
},
"layer":[
{"data":{"name":"s"},"mark":{"type":"point","filled":true,"size":490,"opacity":1,"strokeWidth":0},
"encoding":{
"x":{"field":"x","type":"quantitative","scale":{"domain":[0,13],"nice":false,"zero":false},"axis":{"title":"Start of MTE (Days)","values":[0,2,4,6,8,10,12],"format":"d","labelPadding":18,"titleX":503,"titleY":45,"titleBaseline":"middle","titleAlign":"center"}},
"y":{"field":"y","type":"quantitative","scale":{"domain":[0,13],"nice":false,"zero":false},"axis":{"title":"Length of MTE (Days)","values":[0,2,4,6,8,10,12],"format":"d","labelPadding":15,"titleX":-43,"titleY":229,"titleBaseline":"middle","titleAlign":"center","titleAngle":-90}},
"color":{"datum":"Success","type":"nominal","scale":{"domain":["Success","Failure","Coast"],"range":["#1a00ff","#c8201e","#000000"]},"legend":{"title":null}},
"shape":{"datum":"Success","type":"nominal","scale":{"domain":["Success","Failure","Coast"],"range":["M0.7,0A0.7,0.7,0,1,1,-0.7,0A0.7,0.7,0,1,1,0.7,0Z","M-0.42,0.58L0,0.16L0.42,0.58L0.58,0.42L0.16,0L0.58,-0.42L0.42,-0.58L0,-0.16L-0.42,-0.58L-0.58,-0.42L-0.16,0L-0.58,0.42Z","M-3.6,-0.19H3.6V0.19H-3.6Z"]},"legend":{"title":null}}}},
{"data":{"name":"f"},"mark":{"type":"point","filled":true,"size":1024,"opacity":1,"strokeWidth":0},
"encoding":{"x":{"field":"x","type":"quantitative"},"y":{"field":"y","type":"quantitative"},"color":{"datum":"Failure","type":"nominal"},"shape":{"datum":"Failure","type":"nominal"}}},
{"data":{"name":"c"},"mark":{"type":"line","strokeWidth":3.2},
"encoding":{"x":{"field":"x","type":"quantitative"},"y":{"field":"y","type":"quantitative"},"color":{"datum":"Coast","type":"nominal"}}}
]}
